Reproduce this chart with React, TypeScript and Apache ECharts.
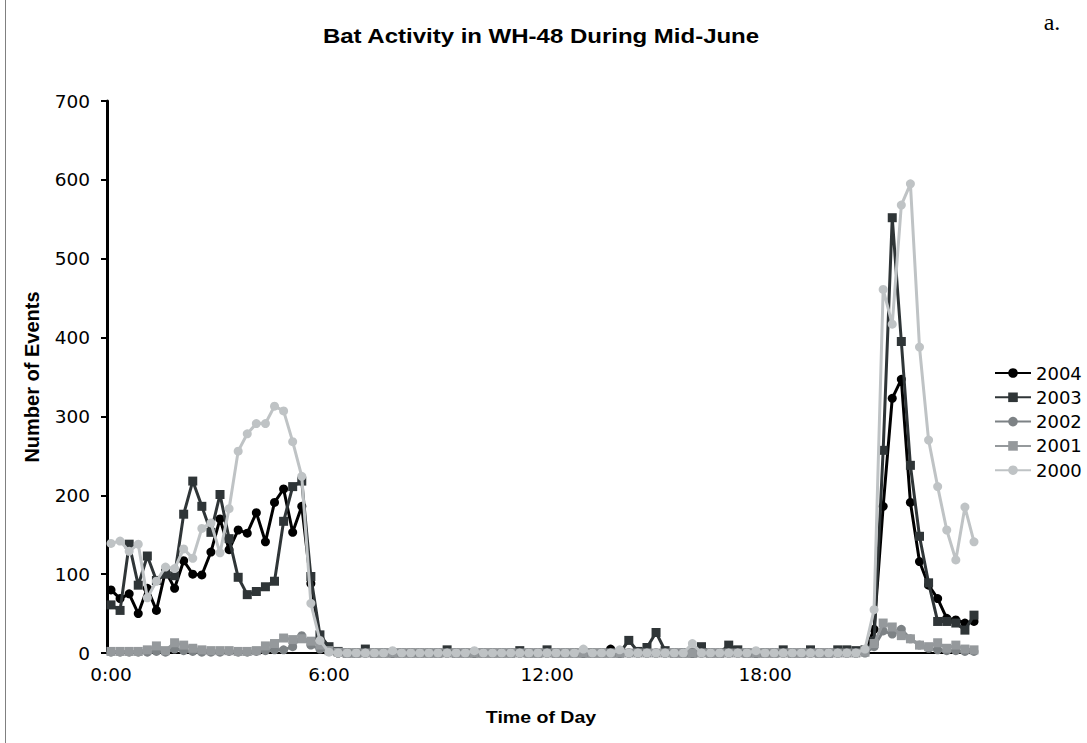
import React, { useEffect, useRef } from "react";
import * as echarts from "echarts";

// 15-minute time slots, 0:00 .. 23:45
const hours: number[] = Array.from({ length: 24 }, (_, h) => h);
const quarters: string[] = ["00", "15", "30", "45"];
const timeLabels: string[] = hours.flatMap((h) => quarters.map((q) => `${h}:${q}`));

const years: string[] = ["2004", "2003", "2002", "2001", "2000"];

const y2004: number[] = [
  80, 69, 75, 50, 82, 54, 104, 82, 117, 100, 99, 128, 170, 131, 156, 152, 178, 141, 191, 208, 153, 186, 88, 18,
  2, 0, 0, 0, 0, 0, 0, 0, 0, 0, 0, 0, 0, 0, 0, 0, 0, 0, 0, 0, 0, 0, 0, 0,
  0, 0, 0, 0, 0, 0, 0, 5, 0, 0, 0, 0, 0, 0, 0, 0, 0, 0, 0, 0, 0, 0, 0, 0,
  0, 0, 0, 0, 0, 0, 0, 0, 0, 0, 0, 2, 30, 186, 323, 347, 191, 116, 86, 69, 44, 42, 38, 40,
];

const y2003: number[] = [
  61, 54, 138, 86, 123, 92, 100, 98, 176, 218, 186, 153, 201, 145, 96, 74, 78, 84, 91, 167, 211, 218, 97, 23,
  8, 2, 0, 0, 5, 0, 0, 0, 0, 0, 0, 0, 0, 4, 0, 0, 0, 0, 0, 0, 0, 3, 0, 0,
  4, 0, 0, 0, 0, 0, 0, 0, 0, 16, 2, 7, 26, 3, 0, 0, 0, 8, 0, 0, 10, 4, 0, 0,
  0, 0, 4, 0, 0, 4, 0, 0, 4, 4, 3, 4, 15, 257, 552, 395, 238, 148, 89, 40, 40, 38, 29, 48,
];

const y2002: number[] = [
  1, 1, 1, 1, 1, 2, 1, 5, 3, 2, 1, 1, 1, 2, 1, 1, 2, 3, 4, 4, 8, 22, 10, 5,
  2, 0, 0, 0, 0, 0, 0, 0, 0, 0, 0, 0, 0, 0, 0, 0, 0, 0, 0, 0, 0, 0, 0, 0,
  0, 0, 0, 0, 0, 0, 0, 0, 0, 0, 0, 0, 0, 0, 0, 0, 0, 0, 0, 0, 0, 0, 0, 0,
  0, 0, 0, 0, 0, 0, 0, 0, 0, 0, 0, 0, 8, 28, 24, 30, 18, 10, 6, 4, 3, 3, 2, 2,
];

const y2001: number[] = [
  2, 2, 2, 2, 4, 9, 3, 13, 10, 6, 4, 3, 3, 3, 2, 2, 3, 9, 12, 19, 17, 18, 15, 10,
  3, 1, 0, 0, 0, 0, 0, 0, 0, 0, 0, 0, 0, 0, 0, 0, 0, 0, 0, 0, 0, 0, 0, 0,
  0, 0, 0, 0, 0, 0, 0, 0, 0, 0, 0, 0, 0, 0, 0, 0, 0, 0, 0, 0, 0, 0, 0, 0,
  0, 0, 0, 0, 0, 0, 0, 0, 0, 0, 0, 1, 12, 38, 33, 22, 18, 10, 8, 13, 6, 10, 5, 4,
];

const y2000: number[] = [
  139, 142, 129, 138, 70, 91, 109, 107, 132, 120, 158, 165, 127, 183, 256, 278, 291, 291, 313, 307, 268, 224, 63, 16,
  1, 0, 0, 0, 0, 0, 0, 3, 0, 0, 0, 0, 0, 0, 0, 0, 3, 0, 0, 0, 0, 0, 0, 0,
  0, 0, 0, 0, 5, 0, 0, 0, 4, 0, 0, 0, 0, 0, 0, 0, 12, 0, 0, 0, 0, 0, 0, 3,
  0, 0, 0, 0, 0, 0, 0, 0, 0, 0, 0, 5, 55, 461, 417, 568, 595, 388, 270, 211, 156, 118, 185, 141,
];

const seriesValues: number[][] = [y2004, y2003, y2002, y2001, y2000];
const seriesColors: string[] = ["#000000", "#2f3537", "#7d8285", "#95999c", "#bfc3c5"];
const seriesSymbols: string[] = ["circle", "rect", "circle", "rect", "circle"];

const yTicks = { min: 0, max: 700, interval: 100 };

export default function App() {
  const ref = useRef<HTMLDivElement>(null);

  useEffect(() => {
    if (!ref.current) return;
    const chart = echarts.init(ref.current, undefined, { renderer: "svg" });

    const series = years.map((name, idx) => ({
      name,
      type: "line",
      data: seriesValues[idx],
      symbol: seriesSymbols[idx],
      symbolSize: 9,
      showAllSymbol: true,
      lineStyle: { color: seriesColors[idx], width: 3 },
      itemStyle: { color: seriesColors[idx] },
      emphasis: { disabled: true },
      z: 2 + idx,
    }));

    chart.setOption({
      animation: false,
      backgroundColor: "#ffffff",
      textStyle: { fontFamily: "DejaVu Sans" },
      grid: { left: 111, right: 113, top: 101, bottom: 90, containLabel: false },
      legend: {
        data: years,
        orient: "vertical",
        left: 994,
        top: 364,
        padding: 0,
        itemWidth: 36,
        itemHeight: 12,
        itemGap: 6.3,
        textStyle: { fontSize: 18, color: "#000", fontFamily: "DejaVu Sans", padding: [0, 0, 0, 0] },
      },
      xAxis: {
        type: "category",
        data: timeLabels,
        boundaryGap: false,
        axisLine: { show: true, lineStyle: { color: "#000", width: 2 } },
        axisTick: { show: false },
        axisLabel: {
          interval: 23,
          fontSize: 18.5,
          color: "#000",
          fontFamily: "DejaVu Sans",
          margin: 12,
        },
        splitLine: { show: false },
      },
      yAxis: {
        type: "value",
        min: yTicks.min,
        max: yTicks.max,
        interval: yTicks.interval,
        offset: 4,
        axisLine: { show: true, lineStyle: { color: "#000", width: 3 } },
        axisTick: { show: true, inside: false, length: 6, lineStyle: { color: "#000", width: 2 } },
        axisLabel: { fontSize: 18.5, color: "#000", fontFamily: "DejaVu Sans", margin: 17 },
        splitLine: { show: false },
      },
      graphic: [
        {
          type: "line",
          shape: { x1: 5.5, y1: 0, x2: 5.5, y2: 743 },
          style: { stroke: "#808080", lineWidth: 1 },
        },
        {
          type: "text",
          x: 541,
          y: 36,
          scaleX: 1.2,
          style: {
            text: "Bat Activity in WH-48 During Mid-June",
            font: "bold 20px 'Liberation Sans', Arial, sans-serif",
            fill: "#000",
            align: "center",
            verticalAlign: "middle",
          },
        },
        {
          type: "text",
          x: 1052,
          y: 22,
          style: {
            text: "a.",
            font: "24px 'Liberation Serif', 'Times New Roman', serif",
            fill: "#000",
            align: "center",
            verticalAlign: "middle",
          },
        },
        {
          type: "text",
          x: 32,
          y: 377,
          rotation: Math.PI / 2,
          style: {
            text: "Number of Events",
            font: "bold 20px 'Liberation Sans', Arial, sans-serif",
            fill: "#000",
            align: "center",
            verticalAlign: "middle",
          },
        },
        {
          type: "text",
          x: 541,
          y: 717,
          scaleX: 1.15,
          style: {
            text: "Time of Day",
            font: "bold 17px 'Liberation Sans', Arial, sans-serif",
            fill: "#000",
            align: "center",
            verticalAlign: "middle",
          },
        },
      ],
      series,
    });

    return () => chart.dispose();
  }, []);

  return (
    <div
      ref={ref}
      style={{ position: "absolute", left: 0, top: 0, width: 1087, height: 743, background: "#fff" }}
    />
  );
}
